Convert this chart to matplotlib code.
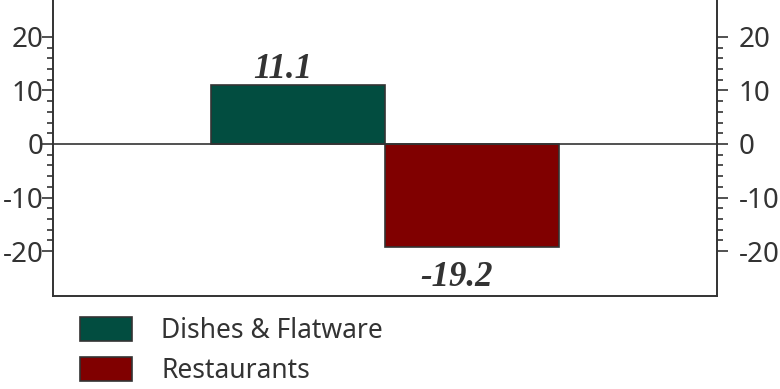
import matplotlib
matplotlib.use('Agg')
import matplotlib.pyplot as plt
from matplotlib.patches import Patch
from matplotlib.ticker import FixedLocator

# series (percent change)
categories = ['Dishes & Flatware', 'Restaurants']
values = [11.1, -19.2]
colors = ['#024d40', '#800000']
major_ticks = [-20, -10, 0, 10, 20]
minor_ticks = list(range(-20, 21, 2))

ink = '#333333'
plt.rcParams['font.family'] = ['Noto Sans', 'DejaVu Sans']
plt.rcParams['axes.unicode_minus'] = False

fig = plt.figure(figsize=(7.8, 3.89), dpi=100)
ax = fig.add_axes([0.068, 0.239, 0.851, 0.761])

xs = list(range(len(values)))
ax.bar(xs, values, width=1.0, color=colors, edgecolor=ink, linewidth=1.2)
ax.axhline(0, color=ink, linewidth=1.2)

for x, v in zip(xs, values):
    y = v + 2.9 if v > 0 else v - 5.7
    ax.text(x - 0.09, y, f'{v:.1f}', ha='center', va='center',
            family='Liberation Serif', fontweight='bold', fontstyle='italic',
            fontsize=25, color=ink)

ax.set_xlim(-1.41, 2.41)
ax.set_ylim(-28.4, 26.9)
ax.set_xticks([])
ax.set_yticks(major_ticks)
ax.yaxis.set_minor_locator(FixedLocator(minor_ticks))

ax2 = ax.twinx()
ax2.set_ylim(ax.get_ylim())
ax2.set_yticks(major_ticks)
ax2.yaxis.set_minor_locator(FixedLocator(minor_ticks))

for a in (ax, ax2):
    a.spines['top'].set_visible(False)
    for s in a.spines.values():
        s.set_color(ink)
        s.set_linewidth(1.2)
    a.tick_params(axis='y', which='major', length=8, width=1.2, color=ink,
                  labelsize=20, labelcolor=ink)
    a.tick_params(axis='y', which='minor', length=4.3, width=1.2, color=ink)
ax.tick_params(axis='y', which='major', pad=-1)
ax2.tick_params(axis='y', which='major', pad=8)

handles = [Patch(facecolor=c, edgecolor=ink, linewidth=1.2) for c in colors]
fig.legend(handles, categories, loc='upper left', bbox_to_anchor=(0.102, 0.185),
           frameon=False, fontsize=19, handlelength=2.0, handleheight=1.0,
           labelspacing=0.45, handletextpad=1.1, labelcolor=ink,
           borderpad=0, borderaxespad=0)

fig.savefig('out.png', dpi=100)
